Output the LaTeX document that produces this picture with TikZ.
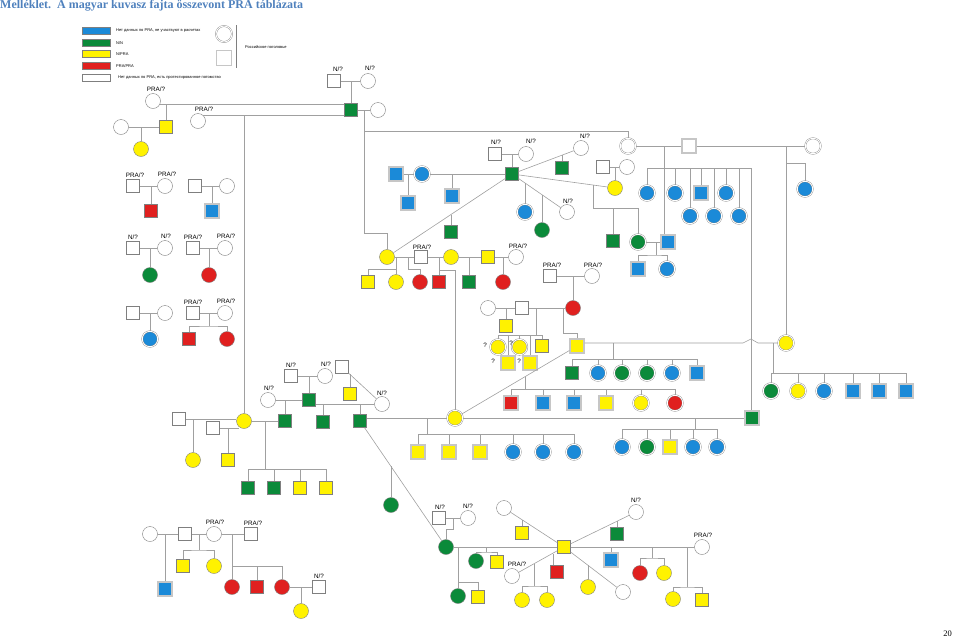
\documentclass[tikz,border=0pt]{standalone}
\usepackage{fontspec}
\setmainfont{Liberation Sans}
\newfontfamily\titlefont{Liberation Serif}
\usetikzlibrary{positioning}
\definecolor{prablue}{HTML}{1B8AD8}
\definecolor{pragreen}{HTML}{0B8A3A}
\definecolor{prayellow}{HTML}{FFF200}
\definecolor{prared}{HTML}{E0201F}
\definecolor{linegray}{HTML}{A0A0A0}
\definecolor{edgegray}{HTML}{7F7F7F}
\definecolor{titleblue}{HTML}{4F81BD}

\begin{document}
\begin{tikzpicture}[x=1pt, y=-1pt,
  ln/.style={draw=linegray, line width=0.6pt},
  sq/.style={rectangle, draw=edgegray, fill=white, line width=0.4pt, minimum size=13pt, inner sep=0pt},
  ci/.style={circle, draw=edgegray, fill=white, line width=0.4pt, minimum size=15pt, inner sep=0pt},
  rsq/.style={sq, draw=gray!45, line width=1.8pt, minimum size=13.5pt},
  rci/.style={ci, draw=edgegray, line width=0.35pt, double=white, double distance=0.9pt, minimum size=15.5pt},
  nb/.style={fill=prablue}, ng/.style={fill=pragreen},
  ny/.style={fill=prayellow}, nr/.style={fill=prared},
  lbl/.style={font=\fontsize{6.3}{7}\selectfont, inner sep=0.3pt},
  legbox/.style={rectangle, draw=edgegray, line width=0.4pt, minimum width=28pt, minimum height=7pt, inner sep=0pt},
  legtxt/.style={anchor=west, font=\fontsize{4}{5}\selectfont, inner sep=0pt}
]
\useasboundingbox (0,0) rectangle (959,638);

% title and page number
\node[anchor=base west, inner sep=0pt, text=titleblue, font=\titlefont\bfseries\fontsize{12}{14}\selectfont] (title) at (0,8.5) {Melléklet.\ \ A magyar kuvasz fajta összevont PRA táblázata};
\node[anchor=base east, inner sep=0pt, font=\titlefont\fontsize{8.5}{10}\selectfont] (pgno) at (952,636) {20};

% legend
\node[legbox, nb] (lgB) at (96,31) {};
\node[legbox, ng] (lgG) at (96,43) {};
\node[legbox, ny] (lgY) at (96,54) {};
\node[legbox, nr] (lgR) at (96,66) {};
\node[legbox] (lgW) at (96,78) {};
\node[legtxt] (lgBt) at (116,31) {Нет данных по PRA, не участвуют в расчетах};
\node[legtxt] (lgGt) at (116,43) {N/N};
\node[legtxt] (lgYt) at (116,54) {N/PRA};
\node[legtxt] (lgRt) at (116,66) {PRA/PRA};
\node[legtxt] (lgWt) at (118,78) {Нет данных по PRA, есть протестированное потомство};
\node[rci, minimum size=16pt] (lgC) at (224,34) {};
\node[rsq, minimum size=15pt] (lgS) at (224,58) {};
\coordinate (lgTop) at (236,25);
\coordinate (lgBot) at (236,68);
\draw[draw=edgegray, line width=0.4pt] (lgTop) -- (lgBot);
\node[legtxt] (lgRu) at (245,47) {Российское поголовье};

% top left
\node[ci] (cA) at (153,101) {};
\node[ci] (cB) at (198,121) {};
\node[ci] (cC) at (121,127) {};
\node[sq, ny] (sA) at (166,127) {};
\node[ci, ny] (cD) at (141,149) {};
\node[sq] (sN1) at (334,81) {};
\node[ci] (cN1) at (368,81) {};
\node[sq, ng] (sG1) at (351,110) {};
\node[ci] (cE) at (378,110) {};

% small families, left
\node[sq] (sW10) at (133,186) {};
\node[ci] (cW10) at (165,186) {};
\node[sq, nr] (sR3) at (151,211) {};
\node[sq] (sW11) at (195,186) {};
\node[ci] (cW11) at (227,186) {};
\node[rsq, nb] (dS24) at (212,211) {};
\node[sq] (sW6) at (133,248) {};
\node[ci] (cW6) at (165,248) {};
\node[ci, ng] (cG2) at (150,275) {};
\node[sq] (sW7) at (193,248) {};
\node[ci] (cW7) at (225,248) {};
\node[ci, nr] (cR4) at (209,275) {};
\node[sq] (sW8) at (133,313) {};
\node[ci] (cW8) at (165,313) {};
\node[rci, nb] (dC34) at (150,339) {};
\node[sq] (sW9) at (193,313) {};
\node[ci] (cW9) at (225,313) {};
\node[sq, nr] (sR2) at (189,339) {};
\node[ci, nr] (cR5) at (227,339) {};

% centre
\node[sq] (sN2) at (495,154) {};
\node[ci] (cN2) at (526,154) {};
\node[sq, ng] (sG2) at (512,174) {};
\node[rsq, nb] (dS1) at (396,174) {};
\node[rci, nb] (dC2) at (422,174) {};
\node[rsq, nb] (dS2) at (408,203) {};
\node[rsq, nb] (dS3) at (452,196) {};
\node[ci, ny] (cY2) at (387,257) {};
\node[sq, ng] (sG3) at (451,232) {};
\node[ci] (cN3) at (581,148) {};
\node[sq, ng] (sG4) at (562,168) {};
\node[sq] (sW3) at (603,167) {};
\node[ci] (cW3) at (627,167) {};
\node[ci, ny] (cY3) at (615,188) {};
\node[sq, ng] (sG5) at (613,241) {};
\node[rci, ng] (dC3) at (638,242) {};
\node[rsq, nb] (dS4) at (668,242) {};
\node[rsq, nb] (dS5) at (638,269) {};
\node[rci, nb] (dC4) at (667,269) {};
\node[ci] (cN4) at (567,212) {};
\node[rci, nb] (dC5) at (525,212) {};
\node[ci, ng] (cG1) at (542,230) {};

% right family
\node[rci] (dC1) at (628,146) {};
\node[rsq] (dS6) at (689,146) {};
\node[rci] (dC6) at (813,146) {};
\node[rci, nb] (dC7) at (647,193) {};
\node[rci, nb] (dC8) at (675,193) {};
\node[rsq, nb] (dS7) at (701,193) {};
\node[rci, nb] (dC11) at (726,193) {};
\node[rci, nb] (dC9) at (690,216) {};
\node[rci, nb] (dC10) at (714,216) {};
\node[rci, nb] (dC12) at (739,216) {};
\node[rci, nb] (dC14) at (805,189) {};
\node[rci, ny] (dC13) at (786,343) {};
\node[rsq, ng] (dS8) at (752,418) {};

% middle row
\node[sq] (sP1) at (421,257) {};
\node[ci, ny] (cY4) at (451,257) {};
\node[sq, ny] (sY2) at (488,257) {};
\node[ci] (cP1) at (516,257) {};
\node[sq, ny] (sY3) at (368,282) {};
\node[ci, ny] (cY5) at (396,282) {};
\node[ci, nr] (cR1) at (420,282) {};
\node[sq, nr] (sR1) at (439,282) {};
\node[sq, ng] (sG6) at (469,282) {};
\node[ci, nr] (cR2) at (503,282) {};

% red family
\node[sq] (sP2) at (550,276) {};
\node[ci] (cP2) at (592,276) {};
\node[ci, nr] (cR3) at (573,308) {};
\node[ci] (cW5) at (488,308) {};
\node[sq] (sW5) at (522,308) {};
\node[sq, ny] (sY4) at (506,326) {};
\node[rci, ny] (dC16) at (498,347) {};
\node[rci, ny] (dC17) at (519.5,347) {};
\node[sq, ny] (sY5) at (542,346) {};
\node[rsq, ny] (dS9) at (508,363) {};
\node[rsq, ny] (dS10) at (530,363) {};
\node[rsq, ny] (dS11) at (577,346) {};
\node[lbl] (q1) at (485,345) {?};
\node[lbl] (q2) at (511,343) {?};
\node[lbl] (q3) at (493,361) {?};
\node[lbl] (q4) at (519,361) {?};

\node[rsq, nr] (dS12) at (511,403) {};
\node[rsq, nb] (dS13) at (543,403) {};
\node[rsq, nb] (dS14) at (574,403) {};
\node[rsq, ny] (dS15) at (606,403) {};
\node[rci, ny] (dC18) at (641,403) {};
\node[rci, nr] (dC19) at (675,403) {};
\node[sq, ng] (sG7) at (572,373) {};
\node[rci, nb] (dC20) at (598,373) {};
\node[rci, ng] (dC21) at (622,373) {};
\node[rci, ng] (dC22) at (647,373) {};
\node[rci, nb] (dC23) at (672,373) {};
\node[rsq, nb] (dS16) at (697,373) {};
\node[rci, ng] (dC24) at (771,391) {};
\node[rci, ny] (dC25) at (798,391) {};
\node[rci, nb] (dC26) at (824,391) {};
\node[rsq, nb] (dS17) at (853,391) {};
\node[rsq, nb] (dS18) at (879,391) {};
\node[rsq, nb] (dS19) at (906,391) {};

\node[rci, ny] (dC15) at (455,418) {};
\node[rci, nb] (dC27) at (622,447) {};
\node[rci, ng] (dC28) at (647,447) {};
\node[rsq, ny] (dS20) at (670,447) {};
\node[rci, nb] (dC29) at (693,447) {};
\node[rci, nb] (dC30) at (717,447) {};
\node[rsq, ny] (dS21) at (418,452) {};
\node[rsq, ny] (dS22) at (449,452) {};
\node[rsq, ny] (dS23) at (480,452) {};
\node[rci, nb] (dC31) at (513,452) {};
\node[rci, nb] (dC32) at (543,452) {};
\node[rci, nb] (dC33) at (574,452) {};

% left, middle height
\node[sq] (sW12) at (179,419) {};
\node[sq] (sW13) at (213,428) {};
\node[ci, ny] (cY1) at (244,421) {};
\node[ci, ny] (cY6) at (193,460) {};
\node[sq, ny] (sY6) at (228,460) {};
\node[sq, ng] (sG9) at (285,421) {};
\node[sq, ng] (sG10) at (248,488) {};
\node[sq, ng] (sG11) at (274,488) {};
\node[sq, ny] (sY7) at (300,488) {};
\node[sq, ny] (sY8) at (326,488) {};
\node[ci] (cN5) at (268,400) {};
\node[sq, ng] (sG12) at (309,400) {};
\node[sq] (sN5) at (291,376) {};
\node[ci] (cN6) at (325,376) {};
\node[ci] (cN7) at (382,404) {};
\node[sq, ng] (sG13) at (323,422) {};
\node[sq, ng] (sG8) at (360,421) {};
\node[sq] (sW14) at (342,367) {};
\node[sq, ny] (sY9) at (350,394) {};
\node[ci, ng] (cG4) at (391,505) {};

% bottom centre
\node[sq] (sN8) at (439,518) {};
\node[ci] (cN8) at (468,518) {};
\node[ci, ng] (cG3) at (446,547) {};
\node[sq, ny] (sY10) at (564,547) {};
\node[ci, ng] (cG5) at (476,561) {};
\node[sq, ny] (sY11) at (497,562) {};
\node[ci, ng] (cG6) at (458,596) {};
\node[sq, ny] (sY12) at (478,597) {};
\node[ci] (cW15) at (504,508) {};
\node[sq, ny] (sY13) at (522,533) {};
\node[ci] (cN9) at (636,512) {};
\node[sq, ng] (sG14) at (617,534) {};
\node[ci] (cP3) at (702,547) {};
\node[rsq, nb] (dS25) at (611,560) {};
\node[ci, nr] (cR6) at (640,573) {};
\node[ci, ny] (cY7) at (664,573) {};
\node[ci, ny] (cY8) at (673,599) {};
\node[sq, ny] (sY14) at (702,600) {};
\node[ci] (cP4) at (512,576) {};
\node[ci, ny] (cY9) at (522,600) {};
\node[ci, ny] (cY10) at (547,600) {};
\node[sq, nr] (sR4) at (557,572) {};
\node[ci] (cW16) at (623,592) {};
\node[ci, ny] (cY11) at (588,587) {};

% bottom left
\node[ci] (cW17) at (150,534) {};
\node[sq] (sW17) at (185,534) {};
\node[ci] (cP5) at (214,534) {};
\node[sq] (sP5) at (251,534) {};
\node[rsq, nb] (dS26) at (165,589) {};
\node[sq, ny] (sY15) at (183,566) {};
\node[ci, ny] (cY12) at (214,566) {};
\node[ci, nr] (cR7) at (232,587) {};
\node[sq, nr] (sR5) at (257,587) {};
\node[ci, nr] (cR8) at (282,587) {};
\node[sq] (sN9) at (319,587) {};
\node[ci, ny] (cY13) at (301,611) {};

% genotype labels
\node[lbl, above=1pt of cA, xshift=3pt] (cAt) {PRA/?};
\node[lbl, above=1pt of cB, xshift=6pt] (cBt) {PRA/?};
\node[lbl, above=2pt of sN1, xshift=4pt] (sN1t) {N/?};
\node[lbl, above=2pt of cN1, xshift=2pt] (cN1t) {N/?};
\node[lbl, above=2pt of sN2, xshift=1pt] (sN2t) {N/?};
\node[lbl, above=2pt of cN2, xshift=5pt] (cN2t) {N/?};
\node[lbl, above=1pt of cN3, xshift=4pt] (cN3t) {N/?};
\node[lbl, above=0.5pt of cN4, xshift=1pt] (cN4t) {N/?};
\node[lbl, above=1.5pt of sW10, xshift=2pt] (sW10t) {PRA/?};
\node[lbl, above=1.5pt of cW10, xshift=2pt] (cW10t) {PRA/?};
\node[lbl, above=1.5pt of sW6] (sW6t) {N/?};
\node[lbl, above=1.5pt of cW6, xshift=1pt] (cW6t) {N/?};
\node[lbl, above=1.5pt of sW7] (sW7t) {PRA/?};
\node[lbl, above=1.5pt of cW7, xshift=1pt] (cW7t) {PRA/?};
\node[lbl, above=1.5pt of sW9] (sW9t) {PRA/?};
\node[lbl, above=1.5pt of cW9, xshift=1pt] (cW9t) {PRA/?};
\node[lbl, above=0.5pt of sP1, xshift=1pt] (sP1t) {PRA/?};
\node[lbl, above=0.5pt of cP1, xshift=2pt] (cP1t) {PRA/?};
\node[lbl, above=1pt of sP2, xshift=2pt] (sP2t) {PRA/?};
\node[lbl, above=0.5pt of cP2, xshift=1pt] (cP2t) {PRA/?};
\node[lbl, above=1.5pt of sN5] (sN5t) {N/?};
\node[lbl, above=1pt of cN6, xshift=1pt] (cN6t) {N/?};
\node[lbl, above=1pt of cN5, xshift=1pt] (cN5t) {N/?};
\node[lbl, above=0.5pt of cN7] (cN7t) {N/?};
\node[lbl, above=1.5pt of sN8, xshift=1pt] (sN8t) {N/?};
\node[lbl, above=1pt of cN8] (cN8t) {N/?};
\node[lbl, above=1pt of cN9] (cN9t) {N/?};
\node[lbl, above=1pt of cP3, xshift=1pt] (cP3t) {PRA/?};
\node[lbl, above=1pt of cP4, xshift=5pt] (cP4t) {PRA/?};
\node[lbl, above=1pt of cP5, xshift=1pt] (cP5t) {PRA/?};
\node[lbl, above=1.5pt of sP5, xshift=2pt] (sP5t) {PRA/?};
\node[lbl, above=1pt of sN9] (sN9t) {N/?};

% connectors: top left
\draw[ln] (cA.-25) -- (cA.-25 -| sG1.west);
\draw[ln] (cB.45) -- (cB.45 -| sG1.west);
\draw[ln] (sA) -- (sA |- cA.-25);
\draw[ln] (cC) -- (sA);
\draw[ln] (cD) -- (cD |- cC);
\draw[ln] (sN1) -- (cN1);
\draw[ln] (sG1) -- (sG1 |- sN1);
\draw[ln] (sG1) -- (cE);
\draw[ln] (cY1) -- (cY1 |- cB.45);
\coordinate (jA) at (364,110);
\draw[ln] (jA) -- ++(0,123) -| (cY2);
\draw[ln] (jA) ++(0,21) -| (dC1);

% small families, left
\draw[ln] (sW10) -- (cW10); \draw[ln] (sR3) -- (sR3 |- sW10);
\draw[ln] (sW11) -- (cW11); \draw[ln] (dS24) -- (dS24 |- sW11);
\draw[ln] (sW6) -- (cW6); \draw[ln] (cG2) -- (cG2 |- sW6);
\draw[ln] (sW7) -- (cW7); \draw[ln] (cR4) -- (cR4 |- sW7);
\draw[ln] (sW8) -- (cW8); \draw[ln] (dC34) -- (dC34 |- sW8);
\draw[ln] (sW9) -- (cW9);
\coordinate (kP) at (209,326);
\draw[ln] (kP |- sW9) -- (kP);
\draw[ln] (sR2) |- (kP) -| (cR5);

% centre
\draw[ln] (sN2) -- (cN2); \draw[ln] (sG2) -- (sG2 |- sN2);
\draw[ln] (dS1) -- (dC2) -- (sG2);
\draw[ln] (dS2) -- (dS2 |- dS1);
\draw[ln] (dS3) -- (dS3 |- sG2);
\draw[ln] (sG2) -- (cY2);
\draw[ln] (sG3.north) -- ++(0,-10.5);
\draw[ln] (sG2) -- (cN3);
\draw[ln] (sG4.north) -- ++(0,-6.3);
\draw[ln] (sG2) -- (cY3);
\draw[ln] (sW3) -- (cW3); \draw[ln] (cY3) -- (cY3 |- sW3);
\coordinate (jB) at (593,185);
\coordinate (kB) at (593,208);
\draw[ln] (jB) -- (kB) -| (dC3);
\draw[ln] (sG5) -- (sG5 |- kB);
\draw[ln] (dC3) -- (dS4);
\coordinate (kC) at (656,255);
\draw[ln] (kC |- dC3) -- (kC);
\draw[ln] (dS5) |- (kC) -| (dC4);
\draw[ln] (sG2) -- (cN4);
\draw[ln] (dC5.north) -- ++(0,-21.2);
\draw[ln] (cG1.north) -- ++(0,-27.8);

% right family
\draw[ln] (dC1) -- (dS6) -- (dC6);
\coordinate (jC) at (664,146);
\draw[ln] (jC) -- (jC |- dS4.north);
\coordinate (kD) at (751,168);
\draw[ln] (dC7 |- kD) -- (kD) -- (kD |- dS8.north);
\foreach \n in {dC7,dC8,dC9,dS7,dC10,dC11,dC12}
  \draw[ln] (\n) -- (\n |- kD);
\coordinate (jD) at (786,146);
\draw[ln] (jD) -- (dC13);
\coordinate (kE) at (786,163);
\draw[ln] (kE) -| (dC14);

% middle row
\draw[ln] (cY2) -- (sP1) -- (cY4) -- (sY2) -- (cP1);
\coordinate (kF) at (396,269);
\draw[ln] (cY5 |- cY2) -- (cY5);
\draw[ln] (kF) -| (sY3);
\coordinate (kG) at (408,269);
\draw[ln] (kG |- cY2) -- (kG) -| (cR1);
\draw[ln] (sR1 |- sP1) -- (sR1);
\coordinate (kH) at (439,270);
\draw[ln] (kH) -| (dC15);
\draw[ln] (sG6 |- cY4) -- (sG6);
\draw[ln] (cR2 |- sY2) -- (cR2);

% red family
\draw[ln] (sP2) -- (cP2); \draw[ln] (cR3) -- (cR3 |- sP2);
\draw[ln] (cW5) -- (sW5) -- (cR3);
\draw[ln] (sY4) -- (sY4 |- cW5);
\coordinate (kI) at (536,335);
\draw[ln] (kI |- sW5) -- (kI);
\draw[ln] (dC16 |- kI) -- (sY5 |- kI);
\foreach \n in {dC16,dC17,sY5,dS9,dS10}
  \draw[ln] (\n) -- (\n |- kI);
\coordinate (kJ) at (563,333);
\draw[ln] (kJ |- sW5) -- (kJ) -| (dS11);
\coordinate (hp) at (751,343);
\draw[ln] (dS11.east |- dC13) -- ([xshift=-8pt]hp) -- ([yshift=4pt]hp) -- ([xshift=7pt]hp) -- (dC13);
\draw[ln] (dS11) -- (dC15);
\coordinate (jK) at (525,376.7);
\coordinate (kK) at (525,389);
\draw[ln] (jK) -- (kK);
\draw[ln] (dS12 |- kK) -- (dC19 |- kK);
\foreach \n in {dS12,dS13,dS14,dS15,dC18,dC19}
  \draw[ln] (\n) -- (\n |- kK);
\coordinate (kL) at (613,359);
\draw[ln] (kL |- dC13) -- (kL);
\draw[ln] (sG7 |- kL) -- (dS16 |- kL);
\foreach \n in {sG7,dC20,dC21,dC22,dC23,dS16}
  \draw[ln] (\n) -- (\n |- kL);
\coordinate (kM) at (773,373);
\draw[ln] (kM |- dC13) -- (kM);
\draw[ln] (dC24 |- kM) -- (dS19 |- kM);
\foreach \n in {dC24,dC25,dC26,dS17,dS18,dS19}
  \draw[ln] (\n) -- (\n |- kM);
\draw[ln] (sG8.east |- dC15) -- (dC15) -- (dS8);
\coordinate (kN) at (695,429);
\draw[ln] (kN |- dC15) -- (kN);
\draw[ln] (dC27 |- kN) -- (dC30 |- kN);
\foreach \n in {dC27,dC28,dS20,dC29,dC30}
  \draw[ln] (\n) -- (\n |- kN);
\coordinate (kO) at (427,434);
\draw[ln] (kO |- dC15) -- (kO);
\draw[ln] (dS21 |- kO) -- (dC33 |- kO);
\foreach \n in {dS21,dS22,dS23,dC31,dC32,dC33}
  \draw[ln] (\n) -- (\n |- kO);

% left, middle height
\draw[ln] (sW12) -- (sW12 -| cY1.west);
\draw[ln] (cY6) -- (cY6 |- sW12);
\draw[ln] (sW13) -- ([xshift=3pt]sW13 -| cY1.west);
\draw[ln] (sY6) -- (sY6 |- sW13);
\draw[ln] (cY1) -- (sG9);
\coordinate (kQ) at (265,469);
\draw[ln] (kQ |- cY1) -- (kQ);
\draw[ln] (sG10 |- kQ) -- (sY8 |- kQ);
\foreach \n in {sG10,sG11,sY7,sY8}
  \draw[ln] (\n) -- (\n |- kQ);
\draw[ln] (cN5) -- (sG12); \draw[ln] (sG9) -- (sG9 |- cN5);
\draw[ln] (sN5) -- (cN6); \draw[ln] (sG12) -- (sG12 |- sN5);
\draw[ln] (sG12.east |- cN7) -- (cN7);
\draw[ln] (sG13) -- (sG13 |- cN7);
\draw[ln] (sG8) -- (sG8 |- cN7);
\draw[ln] (sW14) -- (cN7);
\draw[ln] (sY9.north) -- ++(0,-13.1);
\draw[ln] (sG8) -- (cG3);
\draw[ln] (cG4.north) -- ++(0,-31);

% bottom centre
\draw[ln] (sN8) -- (cN8);
\coordinate (jS) at (453,518);
\draw[ln] (jS) -- ++(0,11) -| (cG3);
\draw[ln] (cG3) -- (sY10);
\coordinate (kT) at (486,552);
\draw[ln] (kT |- cG3) -- (kT);
\draw[ln] (cG5) |- (kT) -| (sY11);
\draw[ln] (cG6 |- cG3) -- (cG6);
\coordinate (kU) at (458,582);
\draw[ln] (kU) -| (sY12);
\draw[ln] (sY10) -- (cW15);
\draw[ln] (sY13.north) -- ++(0,-6.8);
\draw[ln] (sY10) -- (cN9);
\draw[ln] (sG14.north) -- ++(0,-6.3);
\draw[ln] (sY10) -- (cP3);
\draw[ln] (dS25) -- (dS25 |- sY10);
\coordinate (kV) at (652,558);
\draw[ln] (kV |- sY10) -- (kV);
\draw[ln] (cR6) |- (kV) -| (cY7);
\coordinate (kW) at (687,587);
\draw[ln] (kW |- sY10) -- (kW);
\draw[ln] (cY8) |- (kW) -| (sY14);
\draw[ln] (sY10) -- (cP4);
\coordinate (jX) at (534,563.7);
\coordinate (kX) at (534,586);
\draw[ln] (jX) -- (kX);
\draw[ln] (cY9) |- (kX) -| (cY10);
\draw[ln] ([xshift=-4pt]sR4.north) -- ([xshift=-4pt]sR4.north |- sY10.south);
\draw[ln] (sY10) -- (cW16);
\draw[ln] (cY11.north) -- ++(0,-14.2);

% bottom left
\draw[ln] (cW17) -- (sW17) -- (cP5) -- (sP5);
\draw[ln] (dS26) -- (dS26 |- cW17);
\coordinate (kY) at (199,550);
\draw[ln] (kY |- sW17) -- (kY);
\draw[ln] (sY15) |- (kY) -| (cY12);
\coordinate (kZ) at (232,566);
\draw[ln] (cR7 |- cP5) -- (cR7);
\draw[ln] (kZ) -| (cR8);
\draw[ln] (sR5) -- (sR5 |- kZ);
\draw[ln] (cR8) -- (sN9);
\draw[ln] (cY13) -- (cY13 |- cR8);
\end{tikzpicture}
\end{document}
